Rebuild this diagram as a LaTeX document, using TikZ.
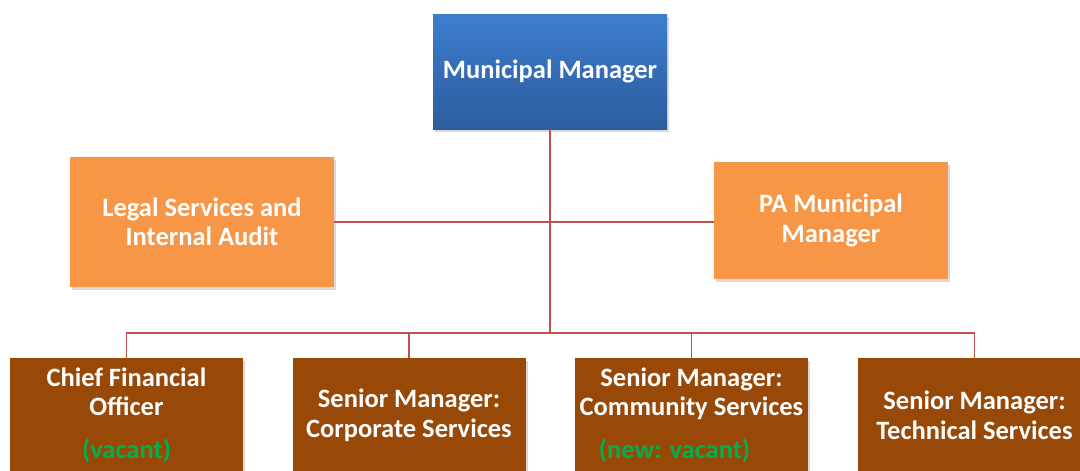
\documentclass[tikz,border=0pt]{standalone}
\usepackage{fontspec}
\setmainfont{Carlito}
\usetikzlibrary{shadows,positioning}
\definecolor{mmtop}{RGB}{61,125,206}
\definecolor{mmbot}{RGB}{44,92,158}
\definecolor{orangebox}{RGB}{247,150,70}
\definecolor{brownbox}{RGB}{152,72,7}
\definecolor{vacgreen}{RGB}{0,176,80}
\definecolor{linkred}{RGB}{192,80,77}
\tikzset{
  boxbase/.style={draw=none, align=center, text=white, inner sep=0pt,
    font=\fontsize{26.5}{29.5}\selectfont\bfseries,
    drop shadow={opacity=0.3, shadow xshift=2pt, shadow yshift=-3pt}},
  mmbox/.style={boxbase, top color=mmtop, bottom color=mmbot,
    minimum width=234pt, minimum height=115pt},
  staffbox/.style={boxbase, fill=orangebox},
  deptbox/.style={boxbase, fill=brownbox, minimum width=233pt, minimum height=114pt, anchor=north},
  link/.style={draw=linkred, line width=1.3pt}
}
\begin{document}
\begin{tikzpicture}[x=1pt,y=-1pt]
\useasboundingbox (0,0) rectangle (1080,471);
\node[mmbox] (mm) at (550,71.5) {Municipal Manager};
\node[staffbox, minimum width=264pt, minimum height=130pt] (legal) at (202,222) {Legal Services and\\Internal Audit};
\node[staffbox, minimum width=234pt, minimum height=117pt] (pa) at (831,220.5) {PA Municipal\\Manager};
\node[deptbox] (cfo) at (126.5,358) {Chief Financial\\Officer\\[13pt]\textcolor{vacgreen}{(vacant)}};
\node[deptbox] (corp) at (409,358) {Senior Manager:\\Corporate Services};
\node[deptbox] (comm) at (691.5,358) {Senior Manager:\\Community Services\\[13pt]\textcolor{vacgreen}{(new: vacant)}\hspace*{34pt}};
\node[deptbox] (tech) at (974.5,358) {Senior Manager:\\Technical Services};
\coordinate (bus) at (550,333);
\draw[link] (mm.south) -- (bus);
\draw[link] (legal.east) -- (legal.east -| pa.west);
\draw[link] (cfo.north) |- (bus);
\draw[link] (tech.north) |- (bus);
\draw[link] (corp.north) -- (corp.north |- bus);
\draw[link] (comm.north) -- (comm.north |- bus);
\end{tikzpicture}
\end{document}
